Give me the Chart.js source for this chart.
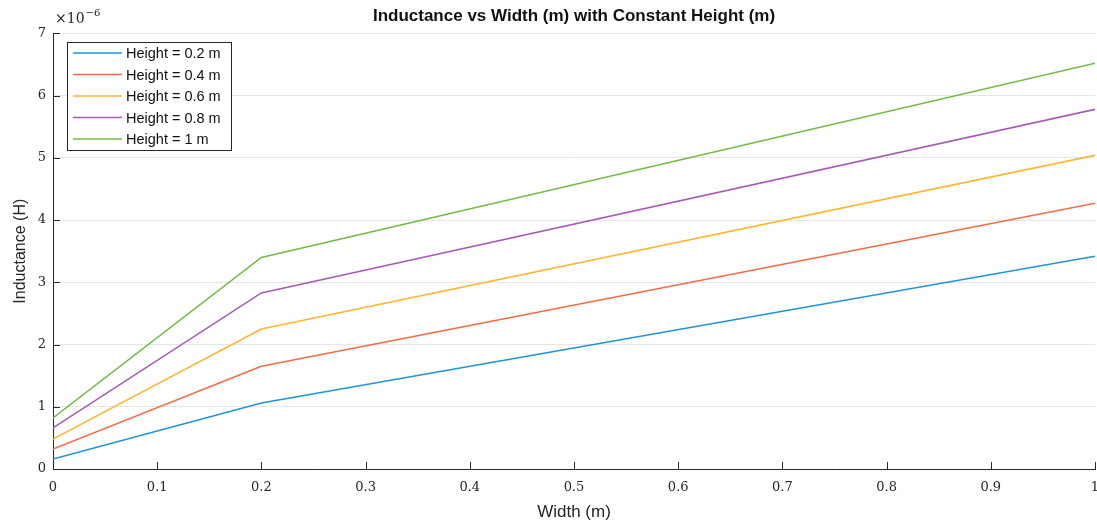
<!DOCTYPE html>
<html>
<head>
<meta charset="utf-8">
<script src="https://cdn.jsdelivr.net/npm/chart.js@4"></script>
<style>
  html, body { margin: 0; padding: 0; background: #fff; }
  #wrap { width: 1097px; height: 525px; }
</style>
</head>
<body>
<div id="wrap"><canvas id="c"></canvas></div>
<script>
// widths (m) where the curves were sampled
const widths = [0, 0.2, 1];
// inductance in units of 1e-6 H
const h02 = [0.16, 1.06, 3.42];
const h04 = [0.32, 1.65, 4.27];
const h06 = [0.48, 2.25, 5.04];
const h08 = [0.66, 2.83, 5.78];
const h10 = [0.82, 3.40, 6.52];
const seriesNames = ["Height = 0.2 m", "Height = 0.4 m", "Height = 0.6 m", "Height = 0.8 m", "Height = 1 m"];
const colors = ["#1f94d6", "#f46c45", "#fdb62f", "#a85bb5", "#76bb44"];

const serif = "'DejaVu Serif', 'Liberation Serif', serif";
const sans = "'Liberation Sans', Arial, sans-serif";

function pts(vals) {
  return widths.map((w, i) => ({ x: w, y: vals[i] }));
}

// MATLAB style: ticks pointing in, exponent label, legend box inside the axes
const matlabBits = {
  id: "matlabBits",
  afterDatasetsDraw(chart) {
    const { ctx, chartArea: a, scales } = chart;
    ctx.save();
    ctx.strokeStyle = "#262626";
    ctx.lineWidth = 1;
    ctx.beginPath();
    scales.x.ticks.forEach(t => {
      const px = Math.round(scales.x.getPixelForValue(t.value)) + 0.5;
      ctx.moveTo(px, a.bottom);
      ctx.lineTo(px, a.bottom - 7);
    });
    scales.y.ticks.forEach(t => {
      const py = Math.round(scales.y.getPixelForValue(t.value)) + 0.5;
      ctx.moveTo(a.left, py);
      ctx.lineTo(a.left + 7, py);
    });
    ctx.stroke();

    // exponent
    ctx.fillStyle = "#262626";
    ctx.textBaseline = "alphabetic";
    ctx.font = "14px " + serif;
    ctx.fillText("×10", a.left + 2, a.top - 10);
    const w = ctx.measureText("×10").width;
    ctx.font = "10px " + serif;
    ctx.fillText("−6", a.left + 2 + w + 1, a.top - 17);

    // legend
    const bx = 67, by = 42, bw = 164, bh = 108;
    ctx.fillStyle = "#fff";
    ctx.fillRect(bx, by, bw, bh);
    ctx.strokeStyle = "#262626";
    ctx.strokeRect(bx + 0.5, by + 0.5, bw, bh);
    ctx.font = "14.5px " + sans;
    ctx.textBaseline = "middle";
    chart.data.datasets.forEach((ds, i) => {
      const y = by + 11 + i * 21.5;
      ctx.strokeStyle = ds.borderColor;
      ctx.lineWidth = 1.5;
      ctx.beginPath();
      ctx.moveTo(bx + 6, y);
      ctx.lineTo(bx + 55, y);
      ctx.stroke();
      ctx.fillStyle = "#111";
      ctx.fillText(ds.label, bx + 59, y + 1);
    });
    ctx.restore();
  }
};

new Chart(document.getElementById("c"), {
  type: "line",
  data: {
    datasets: [h02, h04, h06, h08, h10].map((v, i) => ({
      label: seriesNames[i],
      data: pts(v),
      borderColor: colors[i],
      backgroundColor: colors[i],
      borderWidth: 1.6,
      pointRadius: 0,
      tension: 0,
    })),
  },
  options: {
    responsive: true,
    maintainAspectRatio: false,
    animation: false,
    layout: { padding: { top: 0, right: 2, left: 0, bottom: 0 } },
    plugins: {
      legend: { display: false },
      tooltip: { enabled: false },
      title: {
        display: true,
        fullSize: false,
        text: "Inductance vs Width (m) with Constant Height (m)",
        color: "#111",
        font: { family: sans, size: 17, weight: "bold" },
        padding: { top: 6, bottom: 7 },
      },
    },
    scales: {
      x: {
        type: "linear",
        min: 0,
        max: 1,
        grid: { display: false, drawTicks: false },
        border: { display: true, color: "#262626", width: 1 },
        ticks: {
          stepSize: 0.1,
          color: "#262626",
          padding: 11,
          font: { family: serif, size: 13 },
          callback: v => String(Math.round(v * 10) / 10),
        },
        title: {
          display: true,
          text: "Width (m)",
          color: "#262626",
          font: { family: sans, size: 17 },
          padding: { top: 4, bottom: 2 },
        },
        afterFit(s) {
          s.height = 56;
          s.paddingLeft = 0;
          s.paddingRight = 0;
        },
      },
      y: {
        min: 0,
        max: 7,
        grid: { display: true, color: "#e6e6e6", drawTicks: false },
        border: { display: true, color: "#262626", width: 1 },
        ticks: {
          stepSize: 1,
          color: "#262626",
          padding: 7,
          font: { family: serif, size: 13 },
        },
        title: {
          display: true,
          text: "Inductance (H)",
          color: "#262626",
          font: { family: sans, size: 16 },
          padding: { top: 11, bottom: 4 },
        },
        afterFit(s) { s.width = 53; },
      },
    },
  },
  plugins: [matlabBits],
});
</script>
</body>
</html>
